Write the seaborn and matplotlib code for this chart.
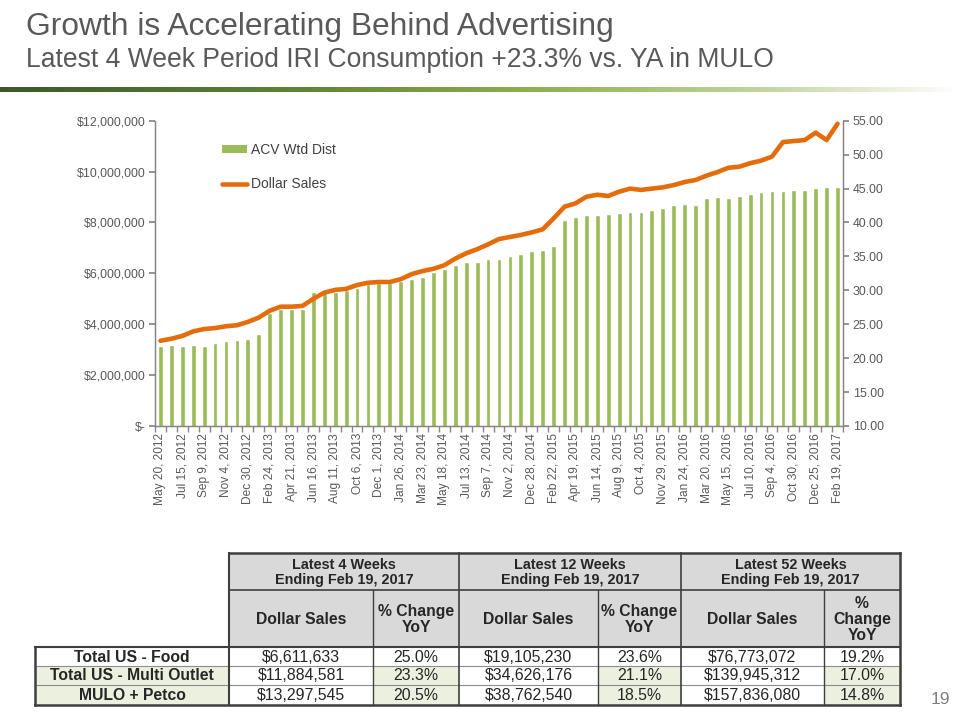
import numpy as np
import pandas as pd
import matplotlib
matplotlib.use("Agg")
import matplotlib.pyplot as plt
import seaborn as sns
from matplotlib.patches import Rectangle, Patch
from matplotlib.lines import Line2D
from matplotlib.ticker import FuncFormatter, FixedLocator
from matplotlib.colors import LinearSegmentedColormap

# ---------------- data ----------------
acv_wtd_dist = [21.8, 21.9, 21.8, 21.9, 21.8, 22.3, 22.6, 22.7, 22.8, 23.6,
                26.6, 27.2, 27.2, 27.3, 29.8, 29.6, 29.8, 30.0, 30.4, 30.9,
                31.1, 31.1, 31.3, 31.7, 31.9, 32.7, 33.2, 33.7, 34.2, 34.2,
                34.6, 34.6, 35.1, 35.4, 35.8, 35.9, 36.5, 40.4, 40.8, 41.1,
                41.1, 41.2, 41.4, 41.5, 41.5, 41.8, 42.1, 42.6, 42.7, 42.6,
                43.6, 43.8, 43.6, 43.9, 44.2, 44.5, 44.6, 44.6, 44.8, 44.8,
                45.1, 45.2, 45.2]
dollar_sales_m = [3.35, 3.43, 3.54, 3.72, 3.81, 3.85, 3.92, 3.96, 4.09, 4.26,
                  4.53, 4.69, 4.69, 4.72, 5.00, 5.24, 5.35, 5.39, 5.54, 5.63,
                  5.66, 5.66, 5.77, 5.97, 6.09, 6.18, 6.32, 6.58, 6.79, 6.95,
                  7.14, 7.35, 7.43, 7.51, 7.61, 7.73, 8.16, 8.62, 8.75, 9.01,
                  9.09, 9.04, 9.21, 9.33, 9.28, 9.33, 9.38, 9.47, 9.59, 9.67,
                  9.84, 9.98, 10.15, 10.19, 10.33, 10.43, 10.59, 11.16, 11.20, 11.24,
                  11.53, 11.24, 11.88]
date_labels = ["May 20, 2012", "Jul 15, 2012", "Sep 9, 2012", "Nov 4, 2012",
               "Dec 30, 2012", "Feb 24, 2013", "Apr 21, 2013", "Jun 16, 2013",
               "Aug 11, 2013", "Oct 6, 2013", "Dec 1, 2013", "Jan 26, 2014",
               "Mar 23, 2014", "May 18, 2014", "Jul 13, 2014", "Sep 7, 2014",
               "Nov 2, 2014", "Dec 28, 2014", "Feb 22, 2015", "Apr 19, 2015",
               "Jun 14, 2015", "Aug 9, 2015", "Oct 4, 2015", "Nov 29, 2015",
               "Jan 24, 2016", "Mar 20, 2016", "May 15, 2016", "Jul 10, 2016",
               "Sep 4, 2016", "Oct 30, 2016", "Dec 25, 2016", "Feb 19, 2017"]
left_ticks = [0, 2e6, 4e6, 6e6, 8e6, 10e6, 12e6]
right_ticks = [10, 15, 20, 25, 30, 35, 40, 45, 50, 55]

group_headers = ["Latest 4 Weeks\nEnding Feb 19, 2017",
                 "Latest 12 Weeks\nEnding Feb 19, 2017",
                 "Latest 52 Weeks\nEnding Feb 19, 2017"]
sub_headers = ["Dollar Sales", "% Change\nYoY", "Dollar Sales", "% Change\nYoY",
               "Dollar Sales", "%\nChange\nYoY"]
row_labels = ["Total US - Food", "Total US - Multi Outlet", "MULO + Petco"]
sales_4wk = ["$6,611,633", "$11,884,581", "$13,297,545"]
chg_4wk = ["25.0%", "23.3%", "20.5%"]
sales_12wk = ["$19,105,230", "$34,626,176", "$38,762,540"]
chg_12wk = ["23.6%", "21.1%", "18.5%"]
sales_52wk = ["$76,773,072", "$139,945,312", "$157,836,080"]
chg_52wk = ["19.2%", "17.0%", "14.8%"]

# ---------------- style ----------------
sns.set_theme(style="white")
plt.rcParams['font.family'] = ['Liberation Sans', 'DejaVu Sans']
GREEN = "#9BBB59"
ORANGE = "#E46C0A"
TXT = "#595959"
SPINE = "#868686"

W, H = 960, 720
fig = plt.figure(figsize=(9.6, 7.2), dpi=100)

# background / table axes in pixel coordinates
bg = fig.add_axes([0, 0, 1, 1])
bg.set_xlim(0, W)
bg.set_ylim(H, 0)
bg.axis("off")

# header texts
fig.text(26 / W, 1 - 35 / H, "Growth is Accelerating Behind Advertising",
         fontsize=22.9, color=TXT, ha="left", va="baseline")
fig.text(26 / W, 1 - 67 / H, "Latest 4 Week Period IRI Consumption +23.3% vs. YA in MULO",
         fontsize=19.1, color=TXT, ha="left", va="baseline")

# gradient rule
cmap = LinearSegmentedColormap.from_list(
    "rule", [(0, "#3B5A27"), (0.3, "#5E8236"), (0.55, "#8CAF4F"), (0.8, "#C3D6A0"), (1.0, "#FFFFFF")])
grad = np.linspace(0, 1, 512).reshape(1, -1)
bg.imshow(grad, cmap=cmap, aspect="auto", extent=[0, W, 92.5, 87.5], zorder=1)
bg.set_xlim(0, W)
bg.set_ylim(H, 0)

# page number
fig.text(940 / W, 1 - 700 / H, "19", fontsize=12.5, color="#7F7F7F", ha="center", va="center")

# ---------------- chart ----------------
n = len(acv_wtd_dist)
df = pd.DataFrame({"period": np.arange(n), "acv": acv_wtd_dist,
                   "sales": np.array(dollar_sales_m) * 1e6})

ax = fig.add_axes([155 / W, 1 - 426 / H, (843 - 155) / W, (426 - 120.7) / H])
ax2 = ax.twinx()

sns.barplot(data=df, x="period", y="acv", color=GREEN, saturation=1, width=0.44,
            errorbar=None, ax=ax)
sns.lineplot(data=df, x="period", y="sales", color=ORANGE, linewidth=3.3, ax=ax2,
             solid_capstyle="round")

ax.set_xlim(-0.5, n - 0.5)
ax.set_ylim(10, 55)
ax2.set_ylim(0, 12e6)

ax.yaxis.tick_right()
ax.yaxis.set_label_position("right")
ax2.yaxis.tick_left()
ax2.yaxis.set_label_position("left")
for a in (ax, ax2):
    a.set_xlabel("")
    a.set_ylabel("")
    a.spines["top"].set_visible(False)
    for s in ("left", "right", "bottom"):
        a.spines[s].set_color(SPINE)
        a.spines[s].set_linewidth(0.9)

ax.set_yticks(right_ticks)
ax.yaxis.set_major_formatter(FuncFormatter(lambda v, p: f"{v:.2f}"))
ax2.set_yticks(left_ticks)
ax2.yaxis.set_major_formatter(FuncFormatter(lambda v, p: "$-" if v == 0 else f"${v:,.0f}"))

ax.set_xticks(np.arange(0, n, 2))
ax.set_xticklabels(date_labels, rotation=90)
ax.xaxis.set_minor_locator(FixedLocator(np.arange(-0.5, n, 1)))
ax.tick_params(axis="x", which="major", length=0, pad=5, labelsize=8.6, labelcolor=TXT)
ax.tick_params(axis="x", which="minor", length=4, direction="out", color=SPINE, bottom=True)
ax.tick_params(axis="y", which="major", length=4, direction="out", color=SPINE,
               labelsize=8.9, labelcolor=TXT, pad=3, right=True, left=False)
ax2.tick_params(axis="y", which="major", length=4, direction="out", color=SPINE,
                labelsize=8.9, labelcolor=TXT, pad=3, left=True, right=False)

handles = [Patch(facecolor=GREEN, edgecolor="none", label="ACV Wtd Dist"),
           Line2D([0], [0], color=ORANGE, linewidth=3.3, solid_capstyle="round", label="Dollar Sales")]
ax2.legend(handles=handles, loc="upper left", bbox_to_anchor=(209 / W, 1 - 130 / H),
           bbox_transform=fig.transFigure, frameon=False, fontsize=10,
           labelspacing=1.5, handlelength=1.85, handleheight=0.5, handletextpad=0.3,
           labelcolor="#404040")

# ---------------- table ----------------
X = [35, 229, 373, 459, 598, 681, 824, 900]
Y = [553, 590, 647, 666, 685, 705]
HDR = "#D9D9D9"
LG = "#EBF1DE"
DARK = "#3F3F3F"
TT = "#262626"

def cell(x0, x1, y0, y1, fc):
    bg.add_patch(Rectangle((x0, y0), x1 - x0, y1 - y0, facecolor=fc, edgecolor="none", zorder=2))

# header fills
cell(X[1], X[7], Y[0], Y[2], HDR)
# data fills
columns = [sales_4wk, chg_4wk, sales_12wk, chg_12wk, sales_52wk, chg_52wk]
for r in range(3):
    y0, y1 = Y[2 + r], Y[3 + r]
    green_row = r > 0
    cell(X[0], X[1], y0, y1, LG if green_row else "white")
    for c in range(6):
        is_pct = c % 2 == 1
        cell(X[1 + c], X[2 + c], y0, y1, LG if (green_row and is_pct) else "white")

# text
for g, txt in enumerate(group_headers):
    xc = (X[1 + 2 * g] + X[3 + 2 * g]) / 2
    bg.text(xc, (Y[0] + Y[1]) / 2 + 1, txt, ha="center", va="center", fontsize=10.4,
            fontweight="bold", color=TT, linespacing=1.1, zorder=4)
for c, txt in enumerate(sub_headers):
    xc = (X[1 + c] + X[2 + c]) / 2
    bg.text(xc, (Y[1] + Y[2]) / 2 + 1, txt, ha="center", va="center", fontsize=11.3,
            fontweight="bold", color=TT, linespacing=1.1, zorder=4)
for r in range(3):
    yc = (Y[2 + r] + Y[3 + r]) / 2 + 0.5
    bg.text((X[0] + X[1]) / 2, yc, row_labels[r], ha="center", va="center",
            fontsize=11.3, fontweight="bold", color=TT, zorder=4)
    for c in range(6):
        bg.text((X[1 + c] + X[2 + c]) / 2, yc, columns[c][r], ha="center", va="center",
                fontsize=11.4, color=TT, zorder=4)

# grid lines
def hline(x0, x1, y, lw=1.2, col=DARK):
    bg.plot([x0, x1], [y, y], color=col, lw=lw, zorder=5, solid_capstyle="projecting")

def vline(x, y0, y1, lw=1.2, col=DARK):
    bg.plot([x, x], [y0, y1], color=col, lw=lw, zorder=5, solid_capstyle="projecting")

hline(X[1], X[7], Y[0], 1.8)
hline(X[1], X[7], Y[1], 1.2)
hline(X[0], X[7], Y[2], 1.5)
hline(X[0], X[7], Y[3], 0.8, "#8C8C8C")
hline(X[0], X[7], Y[4], 0.8, "#8C8C8C")
hline(X[0], X[7], Y[5], 1.8)
vline(X[0], Y[2], Y[5], 1.8)
vline(X[1], Y[0], Y[5], 1.5)
for i in (3, 5):
    vline(X[i], Y[0], Y[5], 1.2)
for i in (2, 4, 6):
    vline(X[i], Y[1], Y[5], 1.0)
vline(X[7], Y[0], Y[5], 1.8)

fig.savefig("out.png", dpi=100)
